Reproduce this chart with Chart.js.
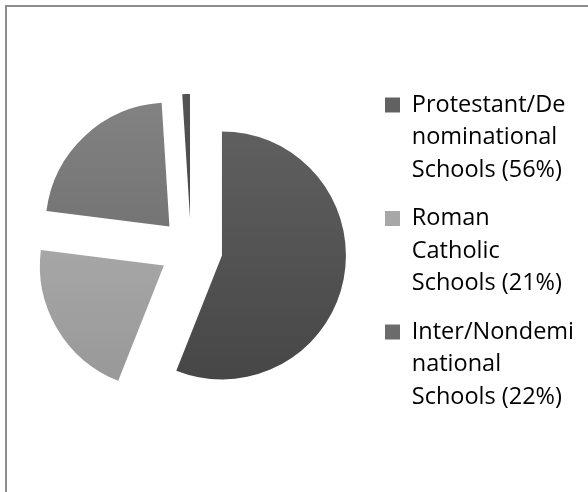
<!DOCTYPE html>
<html>
<head>
<meta charset="utf-8">
<script src="https://cdn.jsdelivr.net/npm/chart.js@4/dist/chart.umd.min.js"></script>
<style>
    html, body {
        margin: 0;
        padding: 0;
        background: #ffffff;
        overflow: hidden;
    }
    .frame {
        position: absolute;
        left: 5px;
        top: 5px;
        width: 600px;
        height: 500px;
        border-left: 2px solid #8c8c8c;
        border-top: 2px solid #8c8c8c;
    }
    .chart-box {
        position: absolute;
        left: 0;
        top: 0;
        width: 588px;
        height: 492px;
    }
</style>
</head>
<body>
<div class="frame"></div>
<div class="chart-box">
    <canvas id="schoolChart" width="588" height="492"></canvas>
</div>
<script>
// trailing spaces only make Chart.js measure the widest line of each entry
const categoryLines = [
    ['Protestant/De ', 'nominational', 'Schools (56%)'],
    ['Roman', 'Catholic', 'Schools (21%)'],
    ['Inter/Nondemi ', 'national', 'Schools (22%)'],
    ['Other (1%)']
];
const shareValues = [56, 21, 22, 1];
const legendShown = [true, true, true, false];

const topColors = ['#636363', '#b5b5b5', '#868686', '#565656'];
const bottomColors = ['#434343', '#949494', '#636363', '#3e3e3e'];

// Chart.js shrinks the angle and grows the radius of offset slices
// (depends on circumference); neutralise that so slices only move outward
const explodeFix = {
    id: 'explodeFix',
    beforeDatasetsDraw(chart) {
        chart.getSortedVisibleDatasetMetas().forEach((meta) => {
            meta.data.forEach((arc) => {
                arc.circumference = Math.PI / 2;
            });
        });
    }
};

function sliceGradient(context) {
    const chart = context.chart;
    const area = chart.chartArea;
    const index = context.dataIndex;
    if (!area) {
        return topColors[index];
    }
    const middle = (area.top + area.bottom) / 2;
    const gradient = chart.ctx.createLinearGradient(0, middle - 160, 0, middle + 160);
    gradient.addColorStop(0, topColors[index]);
    gradient.addColorStop(1, bottomColors[index]);
    return gradient;
}

new Chart(document.getElementById('schoolChart'), {
    type: 'pie',
    data: {
        labels: categoryLines,
        datasets: [
            {
                data: shareValues,
                backgroundColor: sliceGradient,
                borderWidth: 0,
                offset: 126,
                radius: 124
            }
        ]
    },
    options: {
        responsive: false,
        animation: false,
        events: [],
        layout: {
            padding: { left: 13, right: 0, top: 7, bottom: 0 }
        },
        plugins: {
            tooltip: { enabled: false },
            legend: {
                position: 'right',
                align: 'center',
                maxWidth: 219,
                title: {
                    display: true,
                    text: '',
                    padding: 0,
                    font: { size: 12, lineHeight: 1 }
                },
                labels: {
                    boxWidth: 15,
                    boxHeight: 15,
                    padding: 16,
                    color: '#000000',
                    font: { family: 'Open Sans', size: 23.5, lineHeight: 1.383 },
                    filter: (item) => legendShown[item.index]
                }
            }
        }
    },
    plugins: [explodeFix]
});
</script>
</body>
</html>
